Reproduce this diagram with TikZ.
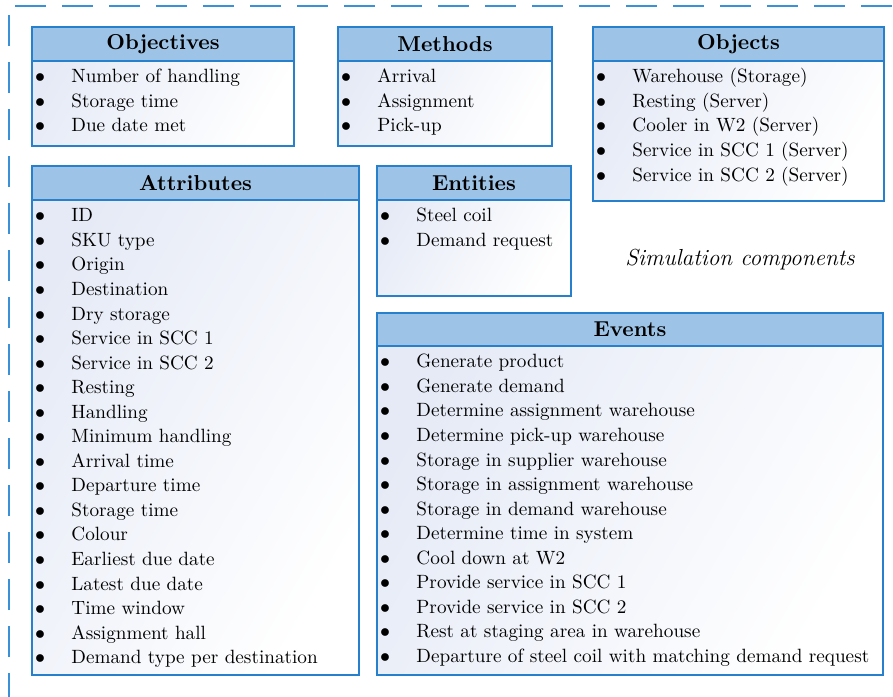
\documentclass[tikz,border=0pt]{standalone}
\usetikzlibrary{fit}
\definecolor{frameblue}{RGB}{38,128,204}
\definecolor{dashblue}{RGB}{58,145,215}
\definecolor{headblue}{RGB}{157,195,230}
\definecolor{bodytint}{RGB}{229,234,246}
\tikzset{
  outline/.style={draw=dashblue, line width=1pt, dash pattern=on 15.5pt off 8pt},
  panelbody/.style={draw=frameblue, line width=1pt, inner sep=0pt,
    left color=bodytint, right color=white, shading angle=60},
  panelhead/.style={draw=frameblue, line width=1pt, inner sep=0pt, fill=headblue},
  paneltitle/.style={font=\fontsize{10.8}{13}\selectfont\bfseries, inner sep=0pt},
  bulletmark/.style={inner sep=0pt, anchor=mid, font=\fontsize{9.6}{12}\selectfont},
  itemtext/.style={inner sep=0pt, anchor=mid west, font=\fontsize{9.6}{12}\selectfont},
}
% \simpanel{name}{left}{top}{right}{bottom}{header bottom}{title}{items}
\newcommand{\simpanel}[8]{%
  \node[panelbody, fit={(#2,#3) (#4,#5)}] (#1) {};
  \node[panelhead, fit={(#2,#3) (#4,#6)}] (#1-head) {};
  \node[paneltitle] (#1-title) at (#1-head.center) {#7};
  \foreach \entry [count=\k from 0] in {#8} {
    \node[bulletmark] (#1-b\k) at (#2+8, #6+17.5+\k*24.55) {$\bullet$};
    \node[itemtext] (#1-t\k) at (#2+39, #6+17.5+\k*24.55) {\entry};
  }%
}
\begin{document}
\begin{tikzpicture}[x=0.5pt, y=-0.5pt]
  \useasboundingbox (0,0) rectangle (893,696);
  \clip (0,0) rectangle (893,696);
  % dashed frame around all components
  \coordinate (frame-top-start) at (15,6);
  \coordinate (frame-top-end) at (900,6);
  \coordinate (frame-left-start) at (9,15);
  \coordinate (frame-left-end) at (9,710);
  \draw[outline] (frame-top-start) -- (frame-top-end);
  \draw[outline] (frame-left-start) -- (frame-left-end);

  \simpanel{objectives}{32}{27}{294}{146}{61}{Objectives}
    {Number of handling, Storage time, Due date met}
  \simpanel{methods}{338}{27}{552}{146}{61}{Methods}
    {Arrival, Assignment, Pick-up}
  \simpanel{objects}{593}{27}{884}{201}{61}{Objects}
    {Warehouse (Storage), Resting (Server), Cooler in W2 (Server),
     Service in SCC 1 (Server), Service in SCC 2 (Server)}
  \simpanel{attributes}{32}{166}{359}{675}{200}{Attributes}
    {ID, SKU type, Origin, Destination, Dry storage, Service in SCC 1,
     Service in SCC 2, Resting, Handling, Minimum handling, Arrival time,
     Departure time, Storage time, Colour, Earliest due date,
     Latest due date, Time window, Assignment hall,
     Demand type per destination}
  \simpanel{entities}{377}{166}{571}{296}{200}{Entities}
    {Steel coil, Demand request}
  \simpanel{events}{377}{313}{883}{675}{346}{Events}
    {Generate product, Generate demand, Determine assignment warehouse,
     Determine pick-up warehouse, Storage in supplier warehouse,
     Storage in assignment warehouse, Storage in demand warehouse,
     Determine time in system, Cool down at W2,
     Provide service in SCC 1, Provide service in SCC 2,
     Rest at staging area in warehouse,
     Departure of steel coil with matching demand request}

  \node[inner sep=0pt, font=\itshape\fontsize{11.6}{14}\selectfont] (caption)
    at (740,260) {Simulation components};
\end{tikzpicture}
\end{document}
